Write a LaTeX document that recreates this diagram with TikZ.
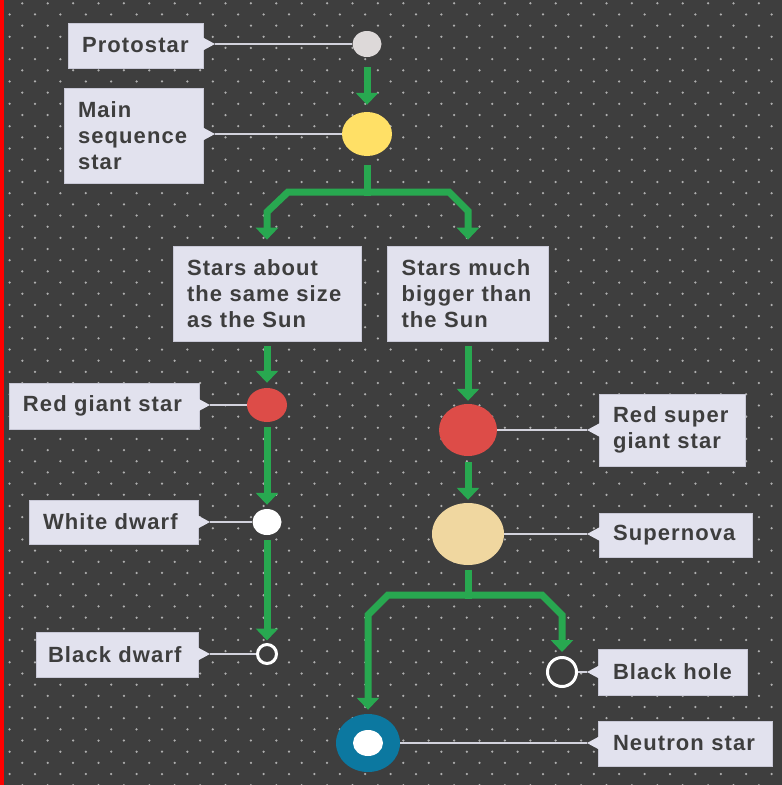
\documentclass[tikz,border=0pt]{standalone}
\usepackage{fontspec}
\setmainfont{Liberation Sans}
\newfontfamily\lblfont{Liberation Sans}[LetterSpace=5]
\usetikzlibrary{arrows.meta,shapes.geometric,calc}
\definecolor{bgc}{RGB}{62,62,62}
\definecolor{dotc}{RGB}{175,175,175}
\definecolor{boxfill}{RGB}{226,226,238}
\definecolor{boxedge}{RGB}{200,200,214}
\definecolor{txt}{RGB}{62,62,62}
\definecolor{connc}{RGB}{210,210,220}
\definecolor{grn}{RGB}{40,168,80}
\definecolor{protoc}{RGB}{221,217,217}
\definecolor{yel}{RGB}{255,224,102}
\definecolor{redc}{RGB}{221,76,72}
\definecolor{wheat}{RGB}{240,215,160}
\definecolor{tealc}{RGB}{12,120,160}
\begin{document}
\begin{tikzpicture}[x=1pt,y=-1pt,
  star/.style={ellipse, inner sep=0pt, draw=none},
  ring/.style={circle, draw=white, line width=3pt, fill=bgc, inner sep=0pt},
  lbl/.style={fill=boxfill, draw=boxedge, line width=0.6pt, inner xsep=14pt, inner ysep=0pt,
    align=left, font=\lblfont\bfseries\fontsize{22}{26}\selectfont, text=txt},
  conn/.style={draw=connc, line width=2pt},
  flow/.style={draw=grn, line width=7pt, -{Triangle[width=22pt,length=12pt]}},
  stub/.style={draw=grn, line width=7pt},
  ptr/.style={fill=boxfill}
]
\useasboundingbox (0,0) rectangle (782,785);
\fill[bgc] (0,0) rectangle (782,785);
\foreach \r in {0,...,70}{
  \pgfmathsetmacro\yy{3.3+11.17*\r}
  \pgfmathsetmacro\xo{ifthenelse(mod(\r,2)==0,22.3,9.6)}
  \foreach \k in {0,...,30}{
    \fill[dotc] (\xo+25.4*\k,\yy) circle (1.25pt);
  }
}
\fill[red] (0,0) rectangle (3.5,785);

% label boxes
\node[lbl, text width=107pt, minimum width=135pt, minimum height=45pt] (pb) at (135.5,45.5) {Protostar};
\node[lbl, text width=111pt, minimum width=139pt, minimum height=95pt] (mb) at (133.5,135.5) {Main\\\mbox{sequence}\\star};
\node[lbl, text width=160pt, minimum width=188pt, minimum height=95pt] (sl) at (267,293.5) {\mbox{Stars about}\\\mbox{the same size}\\\mbox{as the Sun}};
\node[lbl, text width=133pt, minimum width=161pt, minimum height=95pt] (sr) at (468,293.5) {\mbox{Stars much}\\\mbox{bigger than}\\\mbox{the Sun}};
\node[lbl, text width=162pt, minimum width=190pt, minimum height=46pt] (rgb) at (104,406) {\mbox{Red giant star}};
\node[lbl, text width=141pt, minimum width=169pt, minimum height=44pt] (wdb) at (113.5,522) {\mbox{White dwarf}};
\node[lbl, inner xsep=12pt, text width=138pt, minimum width=162pt, minimum height=45pt] (bdb) at (117,654.5) {\mbox{Black dwarf}};
\node[lbl, text width=118pt, minimum width=146pt, minimum height=72pt] (rsgb) at (672,430) {\mbox{Red super}\\\mbox{giant star}};
\node[lbl, text width=125pt, minimum width=153pt, minimum height=44pt] (snb) at (675.5,535) {Supernova};
\node[lbl, inner xsep=15pt, text width=119pt, minimum width=149pt, minimum height=46pt] (bhb) at (672.5,672) {\mbox{Black hole}};
\node[lbl, inner xsep=15pt, text width=144pt, minimum width=174pt, minimum height=45pt] (nsb) at (685,743.5) {\mbox{Neutron star}};

% pointer tips
\coordinate (pbt) at (215,44);
\coordinate (mbt) at (215,134);
\coordinate (rgbt) at (210,405);
\coordinate (wdbt) at (210,522);
\coordinate (bdbt) at (210,654);
\coordinate (rsgbt) at (587,430);
\coordinate (snbt) at (587,534);
\coordinate (bhbt) at (587,672);
\coordinate (nsbt) at (587,743);
\foreach \t in {pbt,mbt,rgbt,wdbt,bdbt}{
  \fill[ptr] ($(\t)+(-13,-7)$) -- (\t) -- ($(\t)+(-13,7)$) -- cycle;
}
\foreach \t in {rsgbt,snbt,bhbt,nsbt}{
  \fill[ptr] ($(\t)+(13,-7)$) -- (\t) -- ($(\t)+(13,7)$) -- cycle;
}

% stars
\node[star, fill=protoc, minimum width=29pt, minimum height=26pt] (proto) at (367,44) {};
\node[star, fill=yel, minimum width=50pt, minimum height=44pt] (ms) at (367,134) {};
\node[star, fill=redc, minimum width=40pt, minimum height=34pt] (rg) at (267,405) {};
\node[star, fill=white, minimum width=29pt, minimum height=26pt] (wd) at (267,522) {};
\node[ring, minimum size=19pt] (bd) at (267,654) {};
\node[star, fill=redc, minimum width=58pt, minimum height=52pt] (rsg) at (468,430) {};
\node[star, fill=wheat, minimum width=72pt, minimum height=62pt] (sn) at (468,534) {};
\node[ring, minimum size=29pt] (bh) at (562,672) {};
\node[star, fill=tealc, minimum width=64pt, minimum height=58pt] (ns) at (368,743) {};
\node[star, fill=white, minimum width=30pt, minimum height=26pt] (nsi) at (368,743) {};

% label connectors
\draw[conn] (pbt) -- (proto);
\draw[conn] (mbt) -- (ms);
\draw[conn] (rgbt) -- (rg);
\draw[conn] (wdbt) -- (wd);
\draw[conn] (bdbt) -- (bd);
\draw[conn] (rsgbt) -- (rsg);
\draw[conn] (snbt) -- (sn);
\draw[conn] (bhbt) -- (bh);
\draw[conn] (nsbt) -- (ns);

% flow arrows
\draw[flow, shorten <=10pt, shorten >=7pt] (proto) -- (ms);
\coordinate (msj) at (367,192);
\coordinate (msl1) at (288,192);
\coordinate (msl2) at (267,212);
\coordinate (msr1) at (449,192);
\coordinate (msr2) at (468,211);
\draw[stub, shorten <=9pt] (ms) -- ($(msj)+(0,3.5)$);
\draw[flow, shorten >=6pt] (msj) -- (msl1) -- (msl2) -- (sl);
\draw[flow, shorten >=6pt] (msj) -- (msr1) -- (msr2) -- (sr);
\draw[flow, shorten <=5pt, shorten >=5pt] (sl) -- (rg);
\draw[flow, shorten <=5pt, shorten >=3pt] (sr) -- (rsg);
\draw[flow, shorten <=5pt, shorten >=4pt] (rg) -- (wd);
\draw[flow, shorten <=5pt, shorten >=2.5pt] (wd) -- (bd);
\draw[flow, shorten <=6pt, shorten >=3pt] (rsg) -- (sn);
\coordinate (snj) at (468,595);
\coordinate (snl1) at (388,595);
\coordinate (snl2) at (368,615);
\coordinate (snr1) at (542,595);
\coordinate (snr2) at (562,615);
\draw[stub, shorten <=5pt] (sn) -- ($(snj)+(0,3.5)$);
\draw[flow, shorten >=4pt] (snj) -- (snl1) -- (snl2) -- (ns);
\draw[flow, shorten >=4pt] (snj) -- (snr1) -- (snr2) -- (bh);
\end{tikzpicture}
\end{document}
